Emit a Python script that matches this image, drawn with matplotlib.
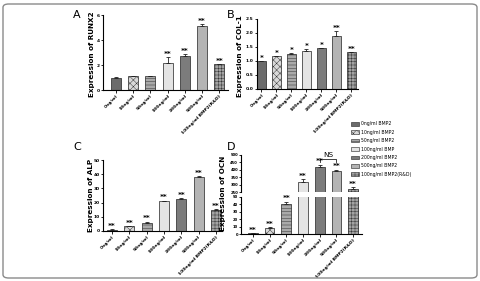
import matplotlib
matplotlib.use("Agg")
import matplotlib.pyplot as plt
from matplotlib.patches import FancyBboxPatch, Patch

# Data
doses = ["0ng/ml", "10ng/ml", "50ng/ml", "100ng/ml", "200ng/ml", "500ng/ml",
         "100ng/ml BMP2(R&D)"]
legend_labels = ["0ng/ml BMP2", "10ng/ml BMP2", "50ng/ml BMP2", "100ng/ml BMP",
                 "200ng/ml BMP2", "500ng/ml BMP2", "100ng/ml BMP2(R&D)"]

runx2 = [1.0, 1.1, 1.12, 2.2, 2.72, 5.1, 2.05]
runx2_err = [0.02, 0.06, 0.04, 0.42, 0.16, 0.2, 0.05]
runx2_sig = ["", "", "", "**", "**", "**", "**"]

col1 = [1.0, 1.17, 1.26, 1.37, 1.45, 1.88, 1.31]
col1_err = [0.01, 0.01, 0.03, 0.06, 0.02, 0.19, 0.02]
col1_sig = ["*", "*", "*", "*", "*", "**", "**"]

alp = [1.0, 3.3, 5.7, 21.0, 22.6, 38.3, 15.0]
alp_err = [0.1, 0.3, 0.8, 0.4, 0.4, 0.4, 0.3]
alp_sig = ["**"] * 7

ocn = [1.0, 8.5, 41.0, 320.0, 418.0, 390.0, 273.0]
ocn_err = [0.3, 0.8, 2.5, 18.0, 16.0, 12.0, 10.0]
ocn_sig = ["**"] * 7

# Styles
COLORS = ["#6b6b6b", "#d8d8d8", "#a9a9a9", "#e4e4e4", "#7c7c7c", "#b4b4b4", "#a3a3a3"]
HATCHES = [None, "xxxxx", "-----", None, None, None, "+++++"]
BAR_W = 0.58
W, H = 481, 281

plt.rcParams["font.family"] = "DejaVu Sans"
plt.rcParams["hatch.linewidth"] = 0.3
plt.rcParams["hatch.color"] = "#555555"

fig = plt.figure(figsize=(W / 100, H / 100), dpi=100)
fig.patch.set_facecolor("white")

# rounded frame
frame = FancyBboxPatch((3 / W, 3 / H), 474 / W, 274 / H,
                       boxstyle="round,pad=0,rounding_size=0.012",
                       transform=fig.transFigure, fill=False,
                       edgecolor="#8a8a8a", linewidth=1.0)
fig.patches.append(frame)


def add_ax(left, right, top, bottom):
    return fig.add_axes([left / W, 1 - bottom / H, (right - left) / W, (bottom - top) / H])


def style_ax(ax, ysize=3.2):
    for s in ["top", "right"]:
        ax.spines[s].set_visible(False)
    for s in ["left", "bottom"]:
        ax.spines[s].set_linewidth(0.8)
    ax.tick_params(axis="both", labelsize=3.2, width=0.6, length=1.8, pad=1)
    ax.tick_params(axis="y", labelsize=ysize, pad=0.6)
    for lab in ax.get_yticklabels():
        lab.set_fontweight("bold")


def draw_bars(ax, vals, errs, sig, star_off, show_x=True):
    x = list(range(len(vals)))
    for i in x:
        ax.bar(i, vals[i], BAR_W, color=COLORS[i], hatch=HATCHES[i],
               edgecolor="#222222", linewidth=0.5, zorder=2)
        ax.errorbar(i, vals[i], yerr=[[0], [errs[i]]], color="#222222",
                    capsize=1.5, elinewidth=0.6, capthick=0.6, zorder=3)
        if sig[i]:
            ax.text(i, vals[i] + errs[i] + star_off, sig[i], ha="center",
                    va="bottom", fontsize=5.2, fontweight="bold")
    ax.set_xticks(x)
    if show_x:
        ax.set_xticklabels(doses, rotation=45, ha="right", rotation_mode="anchor",
                           fontsize=3.3, fontweight="bold")
    else:
        ax.set_xticklabels([])


def ylab(text, px, py):
    fig.text(px / W, 1 - py / H, text, fontsize=5.2, fontweight="bold",
             rotation=90, ha="center", va="center")


# Panel A
axA = add_ax(103, 228, 15, 90)
draw_bars(axA, runx2, runx2_err, runx2_sig, 0.02)
axA.set_ylim(0, 6)
axA.set_yticks([0, 2, 4, 6])
axA.set_xlim(-0.75, 6.5)
style_ax(axA)
ylab("Expression of RUNX2", 92, 54)

# Panel B
axB = add_ax(257, 358, 19, 89)
draw_bars(axB, col1, col1_err, col1_sig, 0.0)
axB.set_ylim(0, 2.5)
axB.set_yticks([0, 0.5, 1.0, 1.5, 2.0, 2.5])
axB.set_yticklabels(["0.0", "0.5", "1.0", "1.5", "2.0", "2.5"])
axB.set_xlim(-0.3, 6.45)
style_ax(axB)
ylab("Expression of COL-1", 240, 56)

# Panel C
axC = add_ax(103, 222, 160, 231)
draw_bars(axC, alp, alp_err, alp_sig, 0.2)
axC.set_ylim(0, 50)
axC.set_yticks([0, 10, 20, 30, 40, 50])
axC.set_xlim(-0.52, 6.35)
style_ax(axC)
ylab("Expression of ALP", 91, 195)

# Panel D (broken axis)
axD_lo = add_ax(241, 362, 197, 234)
axD_hi = add_ax(241, 362, 155, 192)
draw_bars(axD_lo, ocn, ocn_err, [s if v < 50 else "" for s, v in zip(ocn_sig, ocn)], 0.5)
draw_bars(axD_hi, ocn, ocn_err, [s if v >= 50 else "" for s, v in zip(ocn_sig, ocn)], 3, show_x=False)
axD_lo.set_ylim(0, 50)
axD_lo.set_yticks([0, 10, 20, 30, 40, 50])
axD_hi.set_ylim(250, 500)
axD_hi.set_yticks([250, 300, 350, 400, 450, 500])
for a in (axD_lo, axD_hi):
    a.set_xlim(-0.71, 6.53)
    style_ax(a, ysize=2.7)
    a.tick_params(axis="y", length=1.5)
axD_hi.spines["bottom"].set_visible(False)
axD_hi.tick_params(axis="x", length=0)
axD_hi.patch.set_alpha(0)
ylab("Expression of OCN", 223, 193)

# NS bracket
ns_y = 455
axD_hi.plot([4, 4, 5, 5], [ns_y, ns_y + 18, ns_y + 18, ns_y], color="#222222",
            linewidth=0.6, clip_on=False)
axD_hi.text(4.5, ns_y + 22, "NS", ha="center", va="bottom", fontsize=5.2)

# panel letters
for lab, px, py in [("A", 77, 15), ("B", 231, 15), ("C", 77, 147), ("D", 231, 147)]:
    fig.text(px / W, 1 - py / H, lab, fontsize=8, ha="center", va="center")

# legend
handles = [Patch(facecolor=COLORS[i], hatch=HATCHES[i], edgecolor="#222222",
                 linewidth=0.4) for i in range(7)]
fig.legend(handles, legend_labels, loc="upper left",
           bbox_to_anchor=(349 / W, 1 - 119 / H), frameon=False, fontsize=3.3,
           handlelength=1.6, handleheight=0.9, labelspacing=0.75, handletextpad=0.5,
           borderpad=0)

fig.savefig("out.png", dpi=100)
